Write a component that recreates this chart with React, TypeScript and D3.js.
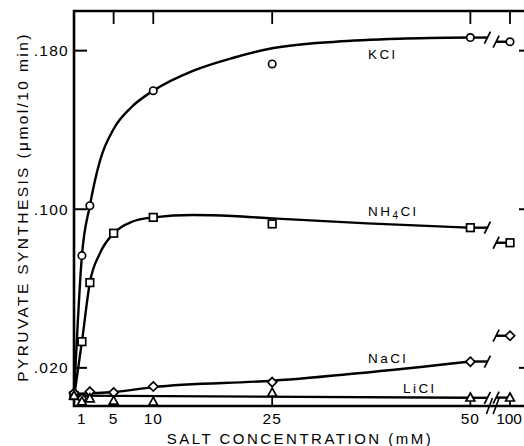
import React from 'react';
import * as d3 from 'd3';

// [salt concentration mM, pyruvate synthesis umol/10 min]
const kclPoints = [[0, 0.006], [1, 0.0766], [2, 0.1018], [10, 0.1598], [25, 0.1733], [50, 0.1866]];
const nh4clPoints = [[0, 0.006], [1, 0.0332], [2, 0.063], [5, 0.0879], [10, 0.0959], [25, 0.0926], [50, 0.0907]];
const naclPoints = [[0, 0.0073], [1, 0.0045], [2, 0.008], [5, 0.0076], [10, 0.0106], [25, 0.0128], [50, 0.0231]];
const liclPoints = [[0, 0.006], [1, 0.003], [2, 0.0046], [5, 0.0034], [10, 0.0029], [25, 0.0075], [50, 0.005]];

// values at 100 mM (past the axis break): KCl, NH4Cl, NaCl, LiCl
const highSaltValues = [0.1845, 0.0831, 0.0362, 0.005];

// hand-drawn fitted curves
const kclFit = [[0, 0.005], [1, 0.0766], [2, 0.1018], [3.3, 0.1248], [5, 0.1405], [7.3, 0.1517], [10, 0.1598], [15, 0.1698], [20, 0.1763], [25, 0.1812], [33, 0.1845], [41, 0.186], [50, 0.1866]];
const nh4clFit = [[0, 0.005], [1, 0.0332], [2, 0.063], [3.3, 0.078], [5, 0.0879], [7.3, 0.0937], [10, 0.0959], [15, 0.0971], [20, 0.0966], [25, 0.0954], [37, 0.0929], [50, 0.0907]];
const naclFit = [[0, 0.0068], [5, 0.0078], [10, 0.0103], [25, 0.0135], [50, 0.0232]];
const liclFit = [[0, 0.006], [50, 0.0049]];

const seriesNames = ['KCl', 'NH4Cl', 'NaCl', 'LiCl'];

const xTicks = [1, 5, 10, 25, 50, 100];
const topTicks = [5, 10, 25, 50, 100];
const yTicks = [0.02, 0.1, 0.18];
const yTickLabels = ['.020', '.100', '.180'];

const W = 524, H = 446;
const left = 74, top = 11, bottom = 406, rightAxis = 532;
const font = "'Liberation Sans', Arial, sans-serif";

// 100 mM sits just past the break
const pos = (c: number) => (c > 50 ? 55 : c);
const x = d3.scaleLinear().domain([0, 55]).range([74, 510]);
const y = d3.scaleLinear().domain([0, 0.2]).range([407.5, 11]);
const breakA = 52.15, breakB = 53.25;

const line = d3.line<number[]>().x((d) => x(pos(d[0]))).y((d) => y(d[1])).curve(d3.curveMonotoneX);

const Marker = ({ kind, cx, cy }: { kind: string; cx: number; cy: number }) => {
  const st = { fill: '#fff', stroke: '#000', strokeWidth: 1.7 };
  if (kind === 'KCl') return <circle cx={cx} cy={cy} r={3.7} {...st} />;
  if (kind === 'NH4Cl') return <rect x={cx - 3.8} y={cy - 3.8} width={7.6} height={7.6} {...st} />;
  if (kind === 'NaCl') return <path d={`M${cx},${cy - 4.6}L${cx + 4.6},${cy}L${cx},${cy + 4.6}L${cx - 4.6},${cy}Z`} {...st} />;
  return <path d={`M${cx},${cy - 4.6}L${cx + 4.4},${cy + 3.4}L${cx - 4.4},${cy + 3.4}Z`} {...st} />;
};

const slash = (sx: number, sy: number, h = 6) => `M${sx - 3},${sy + h}L${sx + 3},${sy - h}`;

export default function App() {
  const fits = [kclFit, nh4clFit, naclFit, liclFit];
  const points = [kclPoints, nh4clPoints, naclPoints, liclPoints];

  return (
    <svg width={W} height={H} style={{ position: 'absolute', left: 0, top: 0, display: 'block', background: '#fff' }}>
      {/* frame */}
      <path d={`M${W + 5},${top}H${left}V${bottom}H${W + 5}`} fill="none" stroke="#000" strokeWidth={2.6} />
      <line x1={rightAxis} x2={rightAxis} y1={top} y2={bottom} stroke="#000" strokeWidth={2.6} />

      {yTicks.map((t, i) => (
        <g key={t}>
          <line x1={left} x2={left + 13} y1={y(t)} y2={y(t)} stroke="#000" strokeWidth={2} />
          <line x1={rightAxis - 13} x2={rightAxis} y1={y(t)} y2={y(t)} stroke="#000" strokeWidth={2} />
          <text x={69} y={y(t) + 5.5} textAnchor="end" fontFamily={font} fontSize={15.5} letterSpacing={1.3}>
            {yTickLabels[i]}
          </text>
        </g>
      ))}

      {topTicks.map((t) => (
        <line key={t} x1={x(pos(t))} x2={x(pos(t))} y1={top} y2={top + 13} stroke="#000" strokeWidth={1.8} />
      ))}
      {xTicks.map((t) => (
        <g key={t}>
          <line x1={x(pos(t))} x2={x(pos(t))} y1={bottom} y2={bottom - 10} stroke="#000" strokeWidth={1.8} />
          {t === 100 ? (
            <text x={522} y={424} textAnchor="end" fontFamily={font} fontSize={15.5}>
              {t}
            </text>
          ) : (
            <text x={x(pos(t))} y={424} textAnchor="middle" fontFamily={font} fontSize={15.5} letterSpacing={1}>
              {t}
            </text>
          )}
        </g>
      ))}

      {/* axis break */}
      <path d={slash(x(breakA) + 2, bottom, 8) + slash(x(breakB), bottom, 8)} stroke="#000" strokeWidth={1.6} fill="none" />

      {fits.map((f, i) => {
        const last = f[f.length - 1];
        const yEnd = y(last[1]);
        const y100 = y(highSaltValues[i]);
        return (
          <g key={seriesNames[i]} fill="none" stroke="#000" strokeWidth={2.4}>
            <path d={line(f) || ''} />
            <path d={`M${x(50)},${yEnd}H${x(breakA)}`} />
            <path d={slash(x(breakA), yEnd)} strokeWidth={1.7} />
            <path d={`M${x(breakB)},${y100}H${x(55)}`} />
            <path d={slash(x(breakB), y100)} strokeWidth={1.7} />
          </g>
        );
      })}

      {points.map((pts, i) => (
        <g key={seriesNames[i]}>
          {pts.map((d) => (
            <Marker key={d[0]} kind={seriesNames[i]} cx={x(pos(d[0]))} cy={y(d[1])} />
          ))}
          <Marker kind={seriesNames[i]} cx={x(pos(100))} cy={y(highSaltValues[i])} />
        </g>
      ))}

      {/* curve labels */}
      <g fontFamily={font} fontSize={13.5} letterSpacing={2.5}>
        <text x={368} y={59}>KCl</text>
        <text x={368} y={216}>
          NH<tspan fontSize={10} dy={3}>4</tspan>
          <tspan dy={-3}>Cl</tspan>
        </text>
        <text x={368} y={363}>NaCl</text>
        <text x={403} y={393}>LiCl</text>
      </g>

      <text x={300} y={444} textAnchor="middle" fontFamily={font} fontSize={15} letterSpacing={2.5}>
        SALT CONCENTRATION (mM)
      </text>
      <text
        transform="translate(28,207) rotate(-90)"
        textAnchor="middle"
        fontFamily={font}
        fontSize={15.5}
        letterSpacing={2.4}
      >
        PYRUVATE SYNTHESIS (μmol/10 min)
      </text>
    </svg>
  );
}
